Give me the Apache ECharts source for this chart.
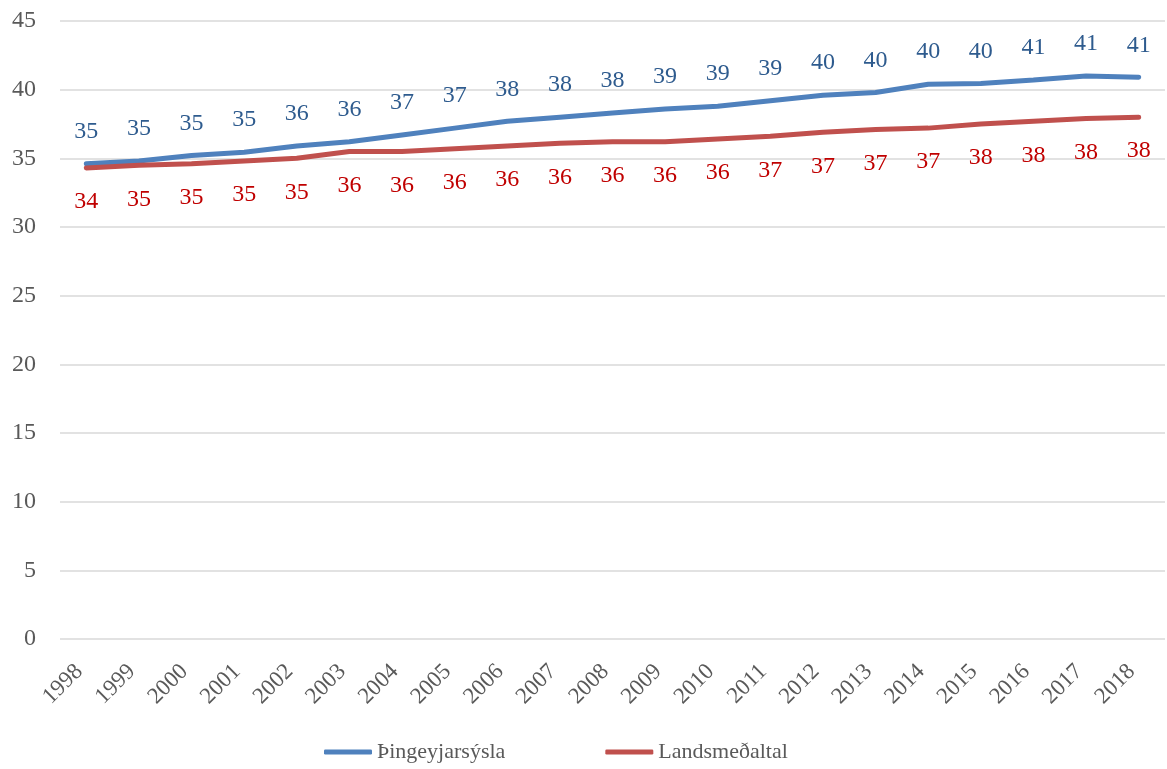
<!DOCTYPE html>
<html><head><meta charset="utf-8">
<script src="https://cdn.jsdelivr.net/npm/echarts@6/dist/echarts.min.js"></script>
<style>html,body{margin:0;padding:0;background:#fff}#c{width:1167px;height:769px}</style>
</head><body><div id="c"></div>
<script>
var years = ['1998','1999','2000','2001','2002','2003','2004','2005','2006','2007','2008','2009','2010','2011','2012','2013','2014','2015','2016','2017','2018'];
var thingeyjarsysla = [34.6,34.8,35.2,35.45,35.9,36.2,36.7,37.2,37.7,38.0,38.3,38.6,38.8,39.2,39.6,39.8,40.4,40.45,40.7,41.0,40.9];
var landsmedaltal = [34.3,34.5,34.6,34.8,35.0,35.5,35.5,35.7,35.9,36.1,36.2,36.2,36.4,36.6,36.9,37.1,37.2,37.5,37.7,37.9,38.0];
var seriesNames = ['Þingeyjarsýsla','Landsmeðaltal'];
var yTicks = {min:0, max:45, interval:5};

var FONT = '"Liberation Serif", "DejaVu Serif", serif';
var chart = echarts.init(document.getElementById('c'));
chart.setOption({
  animation:false,
  textStyle:{fontFamily:FONT},
  grid:{left:60, right:2, top:21, bottom:130},
  legend:{
    bottom:1, left:319, itemWidth:48, itemHeight:5, itemGap:100,
    icon:'roundRect',
    textStyle:{fontFamily:FONT, fontSize:22, color:'#595959'},
    data:seriesNames
  },
  xAxis:{
    type:'category', data:years, boundaryGap:true,
    axisLine:{show:false}, axisTick:{show:false},
    axisLabel:{rotate:45, fontFamily:FONT, fontSize:23, color:'#595959', margin:22, padding:[0,10,0,0], interval:0}
  },
  yAxis:{
    type:'value', min:yTicks.min, max:yTicks.max, interval:yTicks.interval,
    axisLine:{show:false}, axisTick:{show:false},
    splitLine:{lineStyle:{color:'#d9d9d9', width:1.5}},
    axisLabel:{fontFamily:FONT, fontSize:24, color:'#595959', margin:24}
  },
  series:[
    {name:seriesNames[0], type:'line', data:thingeyjarsysla, symbol:'circle', symbolSize:0.1, showSymbol:true,
     lineStyle:{color:'#4F81BD', width:5, cap:'round'}, itemStyle:{color:'#4F81BD'},
     label:{show:true, position:'top', distance:20, fontFamily:FONT, fontSize:24, color:'#2E5B8E',
       formatter:function(p){return Math.round(p.value);}}},
    {name:seriesNames[1], type:'line', data:landsmedaltal, symbol:'circle', symbolSize:0.1, showSymbol:true,
     lineStyle:{color:'#C0504D', width:5, cap:'round'}, itemStyle:{color:'#C0504D'},
     label:{show:true, position:'bottom', distance:22, fontFamily:FONT, fontSize:24, color:'#C00000',
       formatter:function(p){return Math.round(p.value);}}}
  ]
});
</script></body></html>
